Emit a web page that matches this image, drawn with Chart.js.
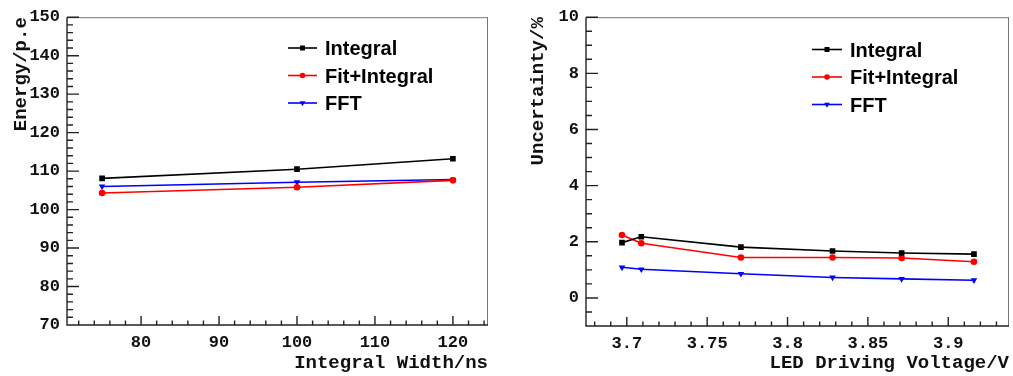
<!DOCTYPE html>
<html>
<head>
<meta charset="utf-8">
<script src="https://cdn.jsdelivr.net/npm/chart.js@4.4.1/dist/chart.umd.min.js"></script>
<style>
  html, body { margin: 0; padding: 0; background: #fff; }
  #wrap { position: relative; width: 1013px; height: 376px; }
  canvas { position: absolute; top: 0; }
  #cEnergy { left: 0; }
  #cUnc { left: 500px; }
</style>
</head>
<body>
<div id="wrap">
  <canvas id="cEnergy" width="500" height="376"></canvas>
  <canvas id="cUnc" width="513" height="376"></canvas>
</div>
<script>
// left pad: energy vs integral width
const widthNs = [75, 100, 120];
const energyIntegral = [108.1, 110.5, 113.2];
const energyFit = [104.3, 105.8, 107.6];
const energyFFT = [106.0, 107.1, 107.8];
const widthTicks = [80, 90, 100, 110, 120];
const energyTicks = [70, 80, 90, 100, 110, 120, 130, 140, 150];

// right pad: uncertainty vs LED voltage
const voltage = [3.697, 3.709, 3.771, 3.828, 3.871, 3.916];
const uncIntegral = [1.97, 2.18, 1.81, 1.67, 1.60, 1.56];
const uncFit = [2.24, 1.95, 1.44, 1.44, 1.42, 1.29];
const uncFFT = [1.09, 1.02, 0.86, 0.73, 0.68, 0.63];
const voltTicks = [3.7, 3.75, 3.8, 3.85, 3.9];
const uncTicks = [0, 2, 4, 6, 8, 10];

const seriesNames = ['Integral', 'Fit+Integral', 'FFT'];

const MONO = '"Liberation Mono", "DejaVu Sans Mono", monospace';
const SANS = '"Liberation Sans", Arial, sans-serif';

function pts(xs, ys) {
  return xs.map((x, i) => ({ x: x, y: ys[i] }));
}

function series(xs, ys) {
  return [
    { label: seriesNames[0], data: pts(xs, ys[0]), borderColor: '#000', backgroundColor: '#000',
      pointStyle: 'rect', pointRadius: 4, pointRotation: 0 },
    { label: seriesNames[1], data: pts(xs, ys[1]), borderColor: '#ff0000', backgroundColor: '#ff0000',
      pointStyle: 'circle', pointRadius: 3.3, pointRotation: 0 },
    { label: seriesNames[2], data: pts(xs, ys[2]), borderColor: '#0000ff', backgroundColor: '#0000ff',
      pointStyle: 'triangle', pointRadius: 3.8, pointRotation: 180 }
  ].map(d => Object.assign(d, { borderWidth: 1.6, pointBorderWidth: 0, tension: 0, fill: false }));
}

// ROOT style frame + inward ticks (major + minor)
const rootFrame = {
  id: 'rootFrame',
  afterDraw(chart, args, opts) {
    const ctx = chart.ctx;
    const a = chart.chartArea;
    const xs = chart.scales.x, ys = chart.scales.y;
    ctx.save();
    ctx.strokeStyle = '#777';
    ctx.lineWidth = 1;
    ctx.beginPath();
    ctx.moveTo(a.left, a.top + 0.5); ctx.lineTo(a.right, a.top + 0.5);
    ctx.moveTo(a.right - 0.5, a.top); ctx.lineTo(a.right - 0.5, a.bottom);
    ctx.stroke();

    ctx.strokeStyle = '#222';
    ctx.lineWidth = 1.4;
    ctx.beginPath();
    ctx.moveTo(a.left, a.top); ctx.lineTo(a.left, a.bottom);
    ctx.lineTo(a.right, a.bottom);

    function each(scale, major, minor, fn) {
      const k0 = Math.ceil(scale.min / minor - 1e-6);
      const k1 = Math.floor(scale.max / minor + 1e-6);
      for (let k = k0; k <= k1; k++) {
        const v = k * minor;
        const r = v / major;
        fn(scale.getPixelForValue(v), Math.abs(r - Math.round(r)) < 1e-6);
      }
    }
    each(xs, opts.xMajor, opts.xMinor, (px, isMajor) => {
      ctx.moveTo(px, a.bottom);
      ctx.lineTo(px, a.bottom - (isMajor ? 9 : 4.5));
    });
    each(ys, opts.yMajor, opts.yMinor, (py, isMajor) => {
      ctx.moveTo(a.left, py);
      ctx.lineTo(a.left + (isMajor ? 12 : 6), py);
    });
    ctx.stroke();
    ctx.restore();
  }
};

// legend box drawn like a ROOT TLegend (no frame)
const rootLegend = {
  id: 'rootLegend',
  afterDraw(chart, args, opts) {
    const ctx = chart.ctx;
    ctx.save();
    chart.data.datasets.forEach((ds, i) => {
      const y = opts.y + i * opts.gap;
      ctx.strokeStyle = ds.borderColor;
      ctx.lineWidth = 1.6;
      ctx.beginPath();
      ctx.moveTo(opts.x, y);
      ctx.lineTo(opts.x + opts.lineLen, y);
      ctx.stroke();
      ctx.fillStyle = ds.backgroundColor;
      ctx.strokeStyle = ds.borderColor;
      Chart.helpers.drawPoint(ctx, {
        pointStyle: ds.pointStyle, radius: ds.pointRadius - 0.5,
        rotation: ds.pointRotation, borderWidth: 0
      }, opts.x + opts.lineLen / 2, y);
      ctx.fillStyle = '#000';
      ctx.font = 'bold 20px ' + SANS;
      ctx.textBaseline = 'alphabetic';
      ctx.textAlign = 'left';
      ctx.fillText(ds.label, opts.x + opts.lineLen + 8, y + 7);
    });
    ctx.restore();
  }
};

function makePad(id, cfg) {
  const ctx = document.getElementById(id);
  return new Chart(ctx.getContext('2d'), {
    type: 'line',
    data: { datasets: cfg.datasets },
    plugins: [rootFrame, rootLegend],
    options: {
      responsive: false,
      animation: false,
      devicePixelRatio: 1,
      layout: { padding: cfg.padding },
      plugins: {
        legend: { display: false },
        tooltip: { enabled: false },
        rootFrame: cfg.frame,
        rootLegend: cfg.legend
      },
      scales: {
        x: {
          type: 'linear',
          min: cfg.xMin, max: cfg.xMax,
          grid: { display: false, drawTicks: false },
          border: { display: false },
          afterBuildTicks: s => { s.ticks = cfg.xTicks.map(v => ({ value: v })); },
          afterFit: s => { s.height = cfg.xHeight; },
          ticks: {
            padding: 8, maxRotation: 0, autoSkip: false,
            color: '#111', font: { family: MONO, size: 17, weight: 'bold' },
            callback: v => String(+v.toFixed(2))
          },
          title: {
            display: true, text: cfg.xTitle, align: 'end',
            color: '#111', font: { family: MONO, size: 19, weight: 'bold' },
            padding: { top: 0, bottom: 1 }
          }
        },
        y: {
          type: 'linear',
          min: cfg.yMin, max: cfg.yMax,
          grid: { display: false, drawTicks: false },
          border: { display: false },
          afterBuildTicks: s => { s.ticks = cfg.yTicks.map(v => ({ value: v })); },
          afterFit: s => { s.width = cfg.yWidth; },
          ticks: {
            padding: 7, autoSkip: false,
            color: '#111', font: { family: MONO, size: 17, weight: 'bold' },
            callback: v => String(v)
          },
          title: {
            display: true, text: cfg.yTitle, align: 'end',
            color: '#111', font: { family: MONO, size: 19, weight: 'bold' },
            padding: { top: cfg.yTitlePad, bottom: 0 }
          }
        }
      }
    }
  });
}

makePad('cEnergy', {
  datasets: series(widthNs, [energyIntegral, energyFit, energyFFT]),
  xMin: 70.5, xMax: 124.5, yMin: 70, yMax: 150,
  xTicks: widthTicks, yTicks: energyTicks,
  xTitle: 'Integral Width/ns', yTitle: 'Energy/p.e',
  padding: { left: 0, right: 12, top: 14, bottom: 0 },
  yWidth: 67, xHeight: 51, yTitlePad: 10,
  frame: { xMajor: 10, xMinor: 2, yMajor: 10, yMinor: 2 },
  legend: { x: 288, y: 48, gap: 27.5, lineLen: 29 }
});

makePad('cUnc', {
  datasets: series(voltage, [uncIntegral, uncFit, uncFFT]),
  xMin: 3.6746, xMax: 3.9378, yMin: -1, yMax: 10,
  xTicks: voltTicks, yTicks: uncTicks,
  xTitle: 'LED Driving Voltage/V', yTitle: 'Uncertainty/%',
  padding: { left: 0, right: 3, top: 13, bottom: 0 },
  yWidth: 86, xHeight: 50, yTitlePad: 27,
  frame: { xMajor: 0.05, xMinor: 0.01, yMajor: 2, yMinor: 0.5 },
  legend: { x: 312, y: 49.5, gap: 27.5, lineLen: 30 }
});
</script>
</body>
</html>
